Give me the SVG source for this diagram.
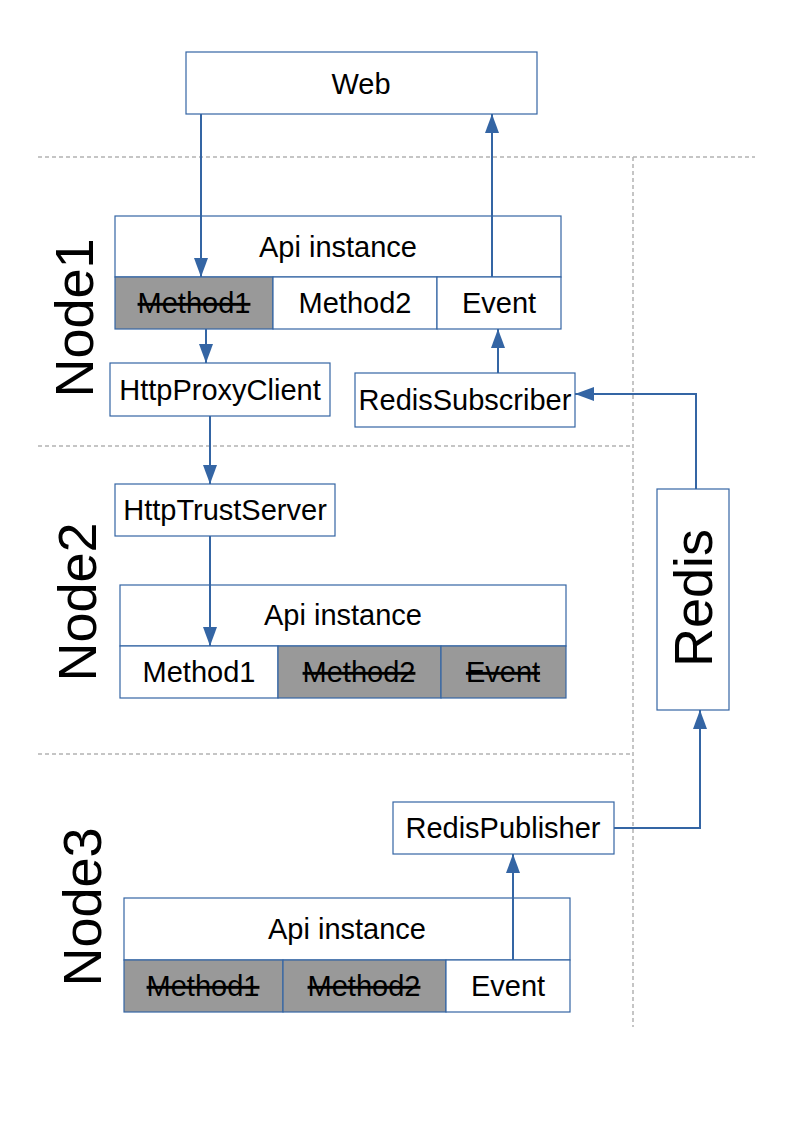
<svg xmlns="http://www.w3.org/2000/svg" width="794" height="1123" viewBox="0 0 794 1123">
<style>
.box{fill:#fff;stroke:#3465a4;stroke-width:1.2}
.off{fill:#999;stroke:#3465a4;stroke-width:1.2}
.t{font-family:"Liberation Sans",Arial,sans-serif;font-size:29px;fill:#000;text-anchor:middle}
.s{text-decoration:line-through}
.big{font-family:"Liberation Sans",Arial,sans-serif;font-size:54px;fill:#000;text-anchor:middle}
.dash{stroke:#b3b3b3;stroke-width:1.5;stroke-dasharray:4 3;fill:none}
.c{stroke:#3465a4;stroke-width:2;fill:none}
</style>
<defs>
<marker id="ah" viewBox="0 0 19 14" refX="19" refY="7" markerUnits="userSpaceOnUse" markerWidth="19" markerHeight="14" orient="auto">
<path d="M0,0 L19,7 L0,14 Z" fill="#3465a4"/>
</marker>
</defs>
<rect width="794" height="1123" fill="#fff"/>
<g id="separators">
<line class="dash" x1="38" y1="157" x2="755" y2="157"/>
<line class="dash" x1="633" y1="157" x2="633" y2="1027"/>
<line class="dash" x1="38" y1="446" x2="633" y2="446"/>
<line class="dash" x1="38" y1="754" x2="633" y2="754"/>
</g>
<g id="labels">
<text class="big" transform="translate(93,318) rotate(-90)">Node1</text>
<text class="big" transform="translate(96,602) rotate(-90)">Node2</text>
<text class="big" transform="translate(101,907) rotate(-90)">Node3</text>
</g>
<g id="web">
<rect class="box" x="186" y="52" width="351" height="62"/>
<text class="t" x="361" y="94">Web</text>
</g>
<g id="node1-api">
<rect class="box" x="115" y="216" width="446" height="61"/>
<text class="t" x="338" y="257">Api instance</text>
<rect class="off" x="115" y="277" width="158" height="52"/>
<text class="t s" x="194" y="313">Method1</text>
<rect class="box" x="273" y="277" width="164" height="52"/>
<text class="t" x="355" y="313">Method2</text>
<rect class="box" x="437" y="277" width="124" height="52"/>
<text class="t" x="499" y="313">Event</text>
</g>
<g id="httpproxyclient">
<rect class="box" x="110" y="363" width="220" height="53"/>
<text class="t" x="220" y="400">HttpProxyClient</text>
</g>
<g id="redissubscriber">
<rect class="box" x="355" y="373" width="220" height="54"/>
<text class="t" x="465" y="410">RedisSubscriber</text>
</g>
<g id="httptrustserver">
<rect class="box" x="115" y="484" width="220" height="52"/>
<text class="t" x="225" y="520">HttpTrustServer</text>
</g>
<g id="node2-api">
<rect class="box" x="120" y="585" width="446" height="61"/>
<text class="t" x="343" y="625">Api instance</text>
<rect class="box" x="120" y="646" width="158" height="52"/>
<text class="t" x="199" y="682">Method1</text>
<rect class="off" x="278" y="646" width="163" height="52"/>
<text class="t s" x="359" y="682">Method2</text>
<rect class="off" x="441" y="646" width="125" height="52"/>
<text class="t s" x="503" y="682">Event</text>
</g>
<g id="redis">
<rect class="box" x="657" y="489" width="72" height="221"/>
<text class="big" transform="translate(712,598) rotate(-90)">Redis</text>
</g>
<g id="redispublisher">
<rect class="box" x="393" y="802" width="221" height="52"/>
<text class="t" x="503" y="838">RedisPublisher</text>
</g>
<g id="node3-api">
<rect class="box" x="124" y="898" width="446" height="62"/>
<text class="t" x="347" y="939">Api instance</text>
<rect class="off" x="124" y="960" width="159" height="52"/>
<text class="t s" x="203" y="996">Method1</text>
<rect class="off" x="283" y="960" width="163" height="52"/>
<text class="t s" x="364" y="996">Method2</text>
<rect class="box" x="446" y="960" width="124" height="52"/>
<text class="t" x="508" y="996">Event</text>
</g>
<g id="connectors">
<line class="c" x1="201" y1="114" x2="201" y2="277" marker-end="url(#ah)"/>
<line class="c" x1="492" y1="277" x2="492" y2="114" marker-end="url(#ah)"/>
<line class="c" x1="206" y1="329" x2="206" y2="363" marker-end="url(#ah)"/>
<line class="c" x1="498" y1="373" x2="498" y2="329" marker-end="url(#ah)"/>
<polyline class="c" points="696,489 696,394 575,394" marker-end="url(#ah)"/>
<line class="c" x1="210" y1="416" x2="210" y2="484" marker-end="url(#ah)"/>
<line class="c" x1="210" y1="536" x2="210" y2="646" marker-end="url(#ah)"/>
<polyline class="c" points="614,828 700,828 700,710" marker-end="url(#ah)"/>
<line class="c" x1="513" y1="960" x2="513" y2="854" marker-end="url(#ah)"/>
</g>
</svg>
